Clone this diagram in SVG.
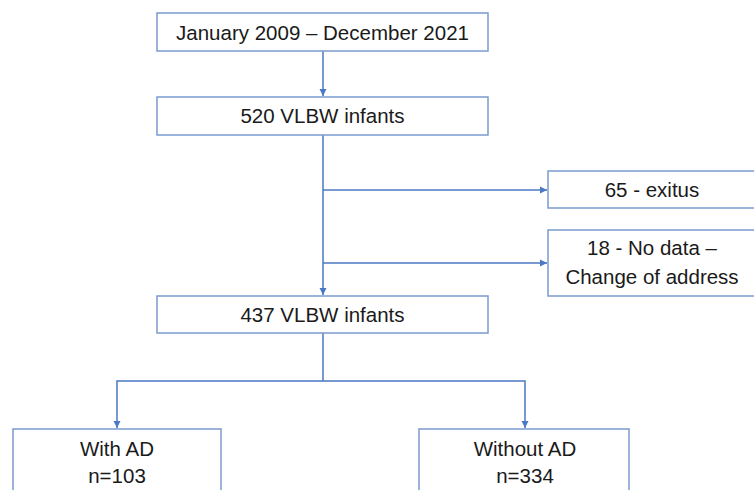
<svg xmlns="http://www.w3.org/2000/svg" width="754" height="490" viewBox="0 0 754 490">
  <defs>
    <marker id="arr" markerWidth="8" markerHeight="8" refX="7" refY="4" orient="auto" markerUnits="userSpaceOnUse">
      <path d="M0,0.5 L7,4 L0,7.5 Z" fill="#4a78c4"/>
    </marker>
    <style>
      .box { fill: #ffffff; stroke: #7b9bd0; stroke-width: 1.5; }
      .lbl { font-family: "Liberation Sans", Arial, sans-serif; font-size: 20.5px; fill: #1a1a1a; text-anchor: middle; }
      .con { fill: none; stroke: #4a78c4; stroke-width: 1.5; }
    </style>
  </defs>
  <rect width="754" height="490" fill="#ffffff"/>

  <g id="connectors">
    <line class="con" x1="323" y1="51" x2="323" y2="96" marker-end="url(#arr)"/>
    <line class="con" x1="323" y1="135" x2="323" y2="295" marker-end="url(#arr)"/>
    <line class="con" x1="323" y1="190" x2="547" y2="190" marker-end="url(#arr)"/>
    <line class="con" x1="323" y1="263" x2="547" y2="263" marker-end="url(#arr)"/>
    <line class="con" x1="323" y1="333" x2="323" y2="381"/>
    <path class="con" d="M323,381 H117 V428" marker-end="url(#arr)"/>
    <path class="con" d="M323,381 H525 V428" marker-end="url(#arr)"/>
  </g>

  <g id="n-period">
    <rect class="box" x="157" y="13" width="331" height="38"/>
    <text class="lbl" x="322.5" y="40">January 2009 – December 2021</text>
  </g>
  <g id="n-520">
    <rect class="box" x="157" y="97" width="331" height="38"/>
    <text class="lbl" x="322.5" y="123">520 VLBW infants</text>
  </g>
  <g id="n-exitus">
    <rect class="box" x="548" y="171" width="215" height="37"/>
    <text class="lbl" x="652" y="197">65 - exitus</text>
  </g>
  <g id="n-nodata">
    <rect class="box" x="548" y="230" width="215" height="66"/>
    <text class="lbl" x="652" y="255">18 - No data –</text>
    <text class="lbl" x="652" y="284">Change of address</text>
  </g>
  <g id="n-437">
    <rect class="box" x="157" y="296" width="331" height="37"/>
    <text class="lbl" x="322.5" y="322">437 VLBW infants</text>
  </g>
  <g id="n-withad">
    <rect class="box" x="13" y="429" width="208" height="75"/>
    <text class="lbl" x="117" y="456">With AD</text>
    <text class="lbl" x="117" y="483">n=103</text>
  </g>
  <g id="n-withoutad">
    <rect class="box" x="419" y="429" width="210" height="75"/>
    <text class="lbl" x="525" y="456">Without AD</text>
    <text class="lbl" x="525" y="483">n=334</text>
  </g>
</svg>
